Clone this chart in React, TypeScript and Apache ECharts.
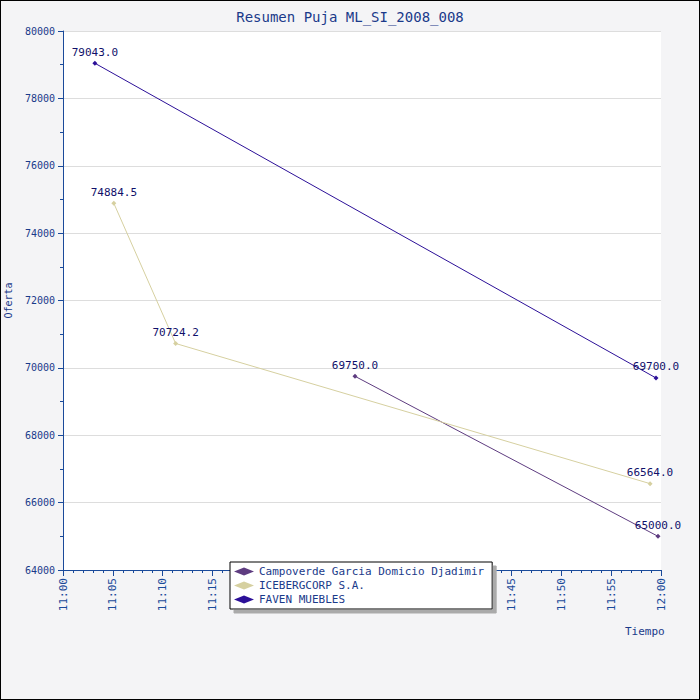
import React, { useEffect, useRef } from 'react';
import * as echarts from 'echarts';

const seriesNames = ['Campoverde Garcia Domicio Djadimir', 'ICEBERGCORP S.A.', 'FAVEN MUEBLES'];
const seriesColors = ['#5e3c80', '#d6d0a0', '#2c1098'];
const campoverdeTimes = ['11:29:18', '11:59:42'];
const campoverdeValues = [69750.0, 65000.0];
const icebergTimes = ['11:05:06', '11:11:18', '11:58:54'];
const icebergValues = [74884.5, 70724.2, 66564.0];
const favenTimes = ['11:03:12', '11:59:30'];
const favenValues = [79043.0, 69700.0];

const toMin = (t: string) => {
  const [h, m, s] = t.split(':').map(Number);
  return (h - 11) * 60 + m + s / 60;
};

const font = '"DejaVu Sans Mono", monospace';

export default function App() {
  const ref = useRef<HTMLDivElement>(null);

  useEffect(() => {
    if (!ref.current) return;
    const chart = echarts.init(ref.current, null, { renderer: 'svg' });
    const sets = [
      [campoverdeTimes, campoverdeValues],
      [icebergTimes, icebergValues],
      [favenTimes, favenValues],
    ];
    chart.setOption({
      animation: false,
      backgroundColor: '#f4f4f6',
      title: {
        text: 'Resumen Puja ML_SI_2008_008',
        left: 'center', top: 4,
        textStyle: { fontFamily: font, fontSize: 14, color: '#1a3a8a', fontWeight: 'normal' },
      },
      graphic: [{
        type: 'text', left: 624, top: 625,
        style: { text: 'Tiempo', fontFamily: font, fontSize: 11, fill: '#1a3a8a' },
      }],
      grid: {
        left: 62, right: 38, top: 30, bottom: 129, backgroundColor: '#fff', show: true, borderWidth: 0,
        outerBoundsMode: 'none', containLabel: false,
      },
      legend: {
        orient: 'vertical', left: 229, top: 561,
        backgroundColor: '#fff', borderColor: '#000', borderWidth: 1, padding: [4, 8, 4, 4],
        itemGap: 3, itemWidth: 20, itemHeight: 8, icon: 'diamond',
        textStyle: { fontFamily: font, fontSize: 11, color: '#1a3a8a' },
        shadowColor: '#aaa', shadowOffsetX: 4, shadowOffsetY: 4, shadowBlur: 0,
        data: seriesNames,
      },
      xAxis: {
        type: 'value', min: 0, max: 60, interval: 5,
        axisLine: { lineStyle: { color: '#1a4a9a' } },
        axisTick: { show: true, length: 6, lineStyle: { color: '#1a4a9a' } },
        minorTick: { show: true, splitNumber: 5, length: 3, lineStyle: { color: '#1a4a9a' } },
        splitLine: { show: false },
        axisLabel: {
          rotate: 90, fontFamily: font, fontSize: 11, color: '#1a4a9a', margin: 8,
          formatter: (v: number) => v === 60 ? '12:00' : '11:' + String(v).padStart(2, '0'),
        },
      },
      yAxis: {
        type: 'value', min: 64000, max: 80000, interval: 2000,
        name: 'Oferta', nameLocation: 'middle', nameGap: 48, nameRotate: 90,
        nameTextStyle: { fontFamily: font, fontSize: 10, color: '#1a3a8a' },
        axisLine: { show: true, lineStyle: { color: '#1a4a9a' } },
        axisTick: { show: true, length: 5, lineStyle: { color: '#1a4a9a' } },
        minorTick: { show: true, splitNumber: 2, length: 3, lineStyle: { color: '#1a4a9a' } },
        splitLine: { lineStyle: { color: '#dddddd' } },
        axisLabel: { fontFamily: font, fontSize: 10, color: '#1a3a8a', formatter: (v: number) => String(v) },
      },
      series: seriesNames.map((name, i) => ({
        name, type: 'line', color: seriesColors[i],
        symbol: 'diamond', symbolSize: 5,
        lineStyle: { width: 1 },
        label: {
          show: true, position: 'top', distance: 3,
          fontFamily: font, fontSize: 11, color: '#10106a',
          formatter: (p: any) => p.value[1].toFixed(1),
        },
        data: (sets[i][0] as string[]).map((t, j) => [toMin(t), (sets[i][1] as number[])[j]]),
      })),
    });
    return () => chart.dispose();
  }, []);

  return (
    <div
      ref={ref}
      style={{ position: 'fixed', left: 0, top: 0, width: 700, height: 700, border: '1px solid #000', boxSizing: 'border-box' }}
    />
  );
}
